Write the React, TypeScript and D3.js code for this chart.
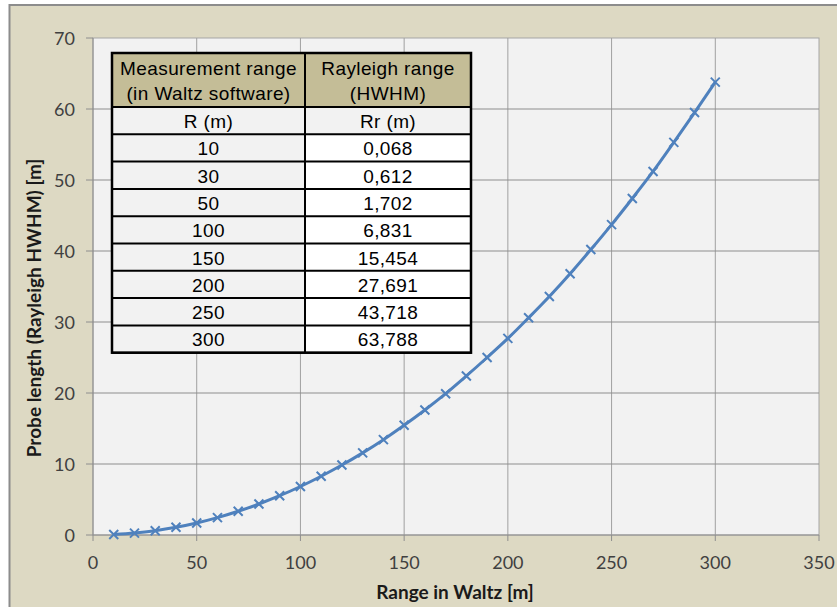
import React from "react";
import * as d3 from "d3";

const rangeX: number[] = [10,20,30,40,50,60,70,80,90,100,110,120,130,140,150,160,170,180,190,200,210,220,230,240,250,260,270,280,290,300];
const rayleighY: number[] = [0.07,0.27,0.61,1.09,1.70,2.45,3.34,4.37,5.53,6.83,8.27,9.85,11.57,13.43,15.45,17.6,19.9,22.4,25.0,27.69,30.6,33.6,36.8,40.2,43.72,47.4,51.2,55.3,59.5,63.79];
const xTicks: number[] = [0,50,100,150,200,250,300,350];
const yTicks: number[] = [0,10,20,30,40,50,60,70];
const tableHeader1: string[] = ["Measurement range", "Rayleigh range"];
const tableHeader2: string[] = ["(in Waltz software)", "(HWHM)"];
const tableUnits: string[] = ["R (m)", "Rr (m)"];
const tableR: string[] = ["10","30","50","100","150","200","250","300"];
const tableRr: string[] = ["0,068","0,612","1,702","6,831","15,454","27,691","43,718","63,788"];

const W = 837, H = 607;
const PL = 93, PR = 819, PT = 38, PB = 535;

export default function App() {
  const x = d3.scaleLinear().domain([0, 350]).range([PL, PR]);
  const y = d3.scaleLinear().domain([0, 70]).range([PB, PT]);
  const pts = rangeX.map((v, i) => [x(v), y(rayleighY[i])] as [number, number]);
  const line = d3.line().curve(d3.curveCatmullRom.alpha(0.5))(pts) || "";

  const tL = 112, tM = 305, tR = 471, tT = 53;
  const hdrH = 54, unitH = 27.3, rowH = 27.3;
  const tickFont = "Lato, 'Open Sans', sans-serif";
  const tableFont = "'Liberation Sans', Arial, sans-serif";
  const rowsTop = tT + hdrH + unitH;
  const tB = rowsTop + rowH * tableR.length;

  return (
    <svg width={W} height={H} style={{ position: "absolute", left: 0, top: 0, display: "block" }}>
      <rect x={0} y={0} width={W} height={H} fill="#ffffff" />
      <rect x={9.5} y={5} width={W} height={H} fill="#DDD9C3" stroke="#8C8C8C" strokeWidth={2} />
      <rect x={PL} y={PT} width={PR - PL} height={PB - PT} fill="#F2F2F2" stroke="#A6A6A6" strokeWidth={1} />
      {xTicks.slice(1, -1).map(t => (
        <line key={"gx" + t} x1={x(t)} x2={x(t)} y1={PT} y2={PB} stroke="#A0A0A0" strokeWidth={1} />
      ))}
      {yTicks.slice(1, -1).map(t => (
        <line key={"gy" + t} x1={PL} x2={PR} y1={y(t)} y2={y(t)} stroke="#8E8E8E" strokeWidth={1} />
      ))}
      <line x1={PL} x2={PR} y1={PB} y2={PB} stroke="#8E8E8E" strokeWidth={1} />
      <line x1={PL} x2={PL} y1={PT} y2={PB} stroke="#8E8E8E" strokeWidth={1} />
      {xTicks.map(t => (
        <g key={"xt" + t}>
          <line x1={x(t)} x2={x(t)} y1={PB} y2={PB + 6} stroke="#8E8E8E" />
          <text x={x(t)} y={PB + 34} textAnchor="middle" fontFamily={tickFont} fontSize={18} fill="#404040">{t}</text>
        </g>
      ))}
      {yTicks.map(t => (
        <g key={"yt" + t}>
          <line x1={PL - 7} x2={PL} y1={y(t)} y2={y(t)} stroke="#8E8E8E" />
          <text x={PL - 18} y={y(t) + 6.5} textAnchor="end" fontFamily={tickFont} fontSize={18} fill="#404040">{t}</text>
        </g>
      ))}
      <text x={455} y={599} textAnchor="middle" fontFamily={tickFont} fontWeight="bold" fontSize={19} fill="#1a1a1a">Range in Waltz [m]</text>
      <text transform={`translate(41,308) rotate(-90)`} textAnchor="middle" fontFamily={tickFont} fontWeight="bold" fontSize={19} fill="#1a1a1a">Probe length (Rayleigh HWHM) [m]</text>

      {/* table */}
      <rect x={tL} y={tT} width={tR - tL} height={hdrH} fill="#C4BD97" />
      <rect x={tL} y={tT + hdrH} width={tR - tL} height={unitH} fill="#F2F2F2" />
      <rect x={tL} y={rowsTop} width={tM - tL} height={tB - rowsTop} fill="#F2F2F2" />
      <rect x={tM} y={rowsTop} width={tR - tM} height={tB - rowsTop} fill="#FFFFFF" />
      {[tT + hdrH, rowsTop, ...tableR.map((_, i) => rowsTop + rowH * (i + 1))].map((yy, i) => (
        <line key={"tl" + i} x1={tL} x2={tR} y1={yy} y2={yy} stroke="#000" strokeWidth={2} />
      ))}
      <line x1={tM} x2={tM} y1={tT} y2={tB} stroke="#000" strokeWidth={2} />
      <rect x={tL} y={tT} width={tR - tL} height={tB - tT} fill="none" stroke="#000" strokeWidth={2.5} />
      {[0, 1].map(c => {
        const cx = c === 0 ? (tL + tM) / 2 : (tM + tR) / 2;
        return (
          <g key={"hc" + c} fontFamily={tableFont} fontSize={19} letterSpacing={0.4} fill="#000" textAnchor="middle">
            <text x={cx} y={tT + 22}>{tableHeader1[c]}</text>
            <text x={cx} y={tT + 47}>{tableHeader2[c]}</text>
            <text x={cx} y={tT + hdrH + 21}>{tableUnits[c]}</text>
          </g>
        );
      })}
      {tableR.map((r, i) => (
        <g key={"tr" + i} fontFamily={tableFont} fontSize={19} letterSpacing={0.4} fill="#000" textAnchor="middle">
          <text x={(tL + tM) / 2} y={rowsTop + rowH * i + 21}>{r}</text>
          <text x={(tM + tR) / 2} y={rowsTop + rowH * i + 21}>{tableRr[i]}</text>
        </g>
      ))}

      <path d={line} fill="none" stroke="#4F81BD" strokeWidth={3} />
      {pts.map(([px, py], i) => (
        <path key={"m" + i} d={`M${px - 4.5},${py - 4.5}L${px + 4.5},${py + 4.5}M${px - 4.5},${py + 4.5}L${px + 4.5},${py - 4.5}`} stroke="#4F81BD" strokeWidth={2} />
      ))}
    </svg>
  );
}
